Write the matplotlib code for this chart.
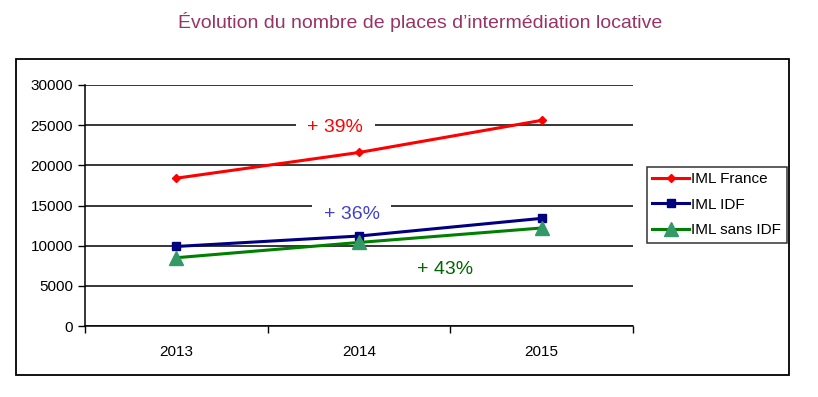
import matplotlib
matplotlib.use('Agg')
import matplotlib.pyplot as plt
from matplotlib.patches import Rectangle

plt.rcParams['font.family'] = ['Liberation Sans', 'DejaVu Sans']

years = ['2013', '2014', '2015']
iml_france = [18400, 21600, 25600]
iml_idf = [9900, 11200, 13400]
iml_sans_idf = [8500, 10400, 12200]
y_ticks = [0, 5000, 10000, 15000, 20000, 25000, 30000]
labels = ['+ 39%', '+ 36%', '+ 43%']

fig = plt.figure(figsize=(8.18, 3.97), dpi=100)
W, H = 818, 397

# outer frame of the chart
fig.patches.append(Rectangle((16 / W, 1 - 375 / H), 773 / W, 316 / H,
                             transform=fig.transFigure, fill=False,
                             edgecolor='black', linewidth=1.3))

fig.text(420 / W, 1 - 22 / H,
         "\u00c9volution du nombre de places d\u2019interm\u00e9diation locative",
         ha='center', va='center', fontsize=14, color='#993366')

ax = fig.add_axes([85 / W, 1 - 326 / H, 548 / W, 241 / H])
x = range(len(years))

ax.plot(x, iml_france, color='red', lw=2.2, marker='D', ms=4,
        label='IML France')
ax.plot(x, iml_idf, color='#000080', lw=2.2, marker='s', ms=6,
        label='IML IDF')
ax.plot(x, iml_sans_idf, color='#008000', lw=2.2, marker='^', ms=10,
        markerfacecolor='#339966', markeredgecolor='#339966',
        label='IML sans IDF')

ax.set_xlim(-0.5, 2.5)
ax.set_ylim(0, 30000)
ax.set_yticks(y_ticks)
ax.set_yticklabels([str(v) for v in y_ticks])
ax.yaxis.grid(True, color='black', lw=1.1)
ax.set_axisbelow(True)

ax.set_xticks([-0.5, 0.5, 1.5, 2.5])
ax.set_xticklabels([])
ax.set_xticks(list(x), minor=True)
ax.set_xticklabels(years, minor=True)
ax.tick_params(axis='x', which='major', direction='out', length=5, width=1)
ax.tick_params(axis='x', which='minor', length=0, pad=14, labelsize=11)
ax.tick_params(axis='y', direction='out', length=5, width=1, labelsize=11)

for s in ['top', 'right']:
    ax.spines[s].set_visible(False)
for s in ['left', 'bottom']:
    ax.spines[s].set_linewidth(1.1)

# white boxes hide the gridlines behind the labels, but stay under the lines
bbox = dict(boxstyle='square,pad=0.6', facecolor='white', edgecolor='none')
ax.text(0.87, 24650, labels[0], color='red', fontsize=14, ha='center',
        va='center', bbox=bbox, zorder=1)
ax.text(0.96, 13850, labels[1], color='#4040CC', fontsize=14, ha='center',
        va='center', bbox=bbox, zorder=1)
ax.text(1.47, 7000, labels[2], color='#006600', fontsize=14, ha='center',
        va='center', zorder=1)

leg = fig.legend(loc='upper left', bbox_to_anchor=(647 / W, 1 - 167 / H),
                 fontsize=11, frameon=True, fancybox=False,
                 handlelength=2.4, handletextpad=0.15, borderpad=0.35,
                 labelspacing=0.75, borderaxespad=0)
leg.get_frame().set_edgecolor('black')
leg.get_frame().set_linewidth(1.1)

fig.savefig('out.png', dpi=100)
